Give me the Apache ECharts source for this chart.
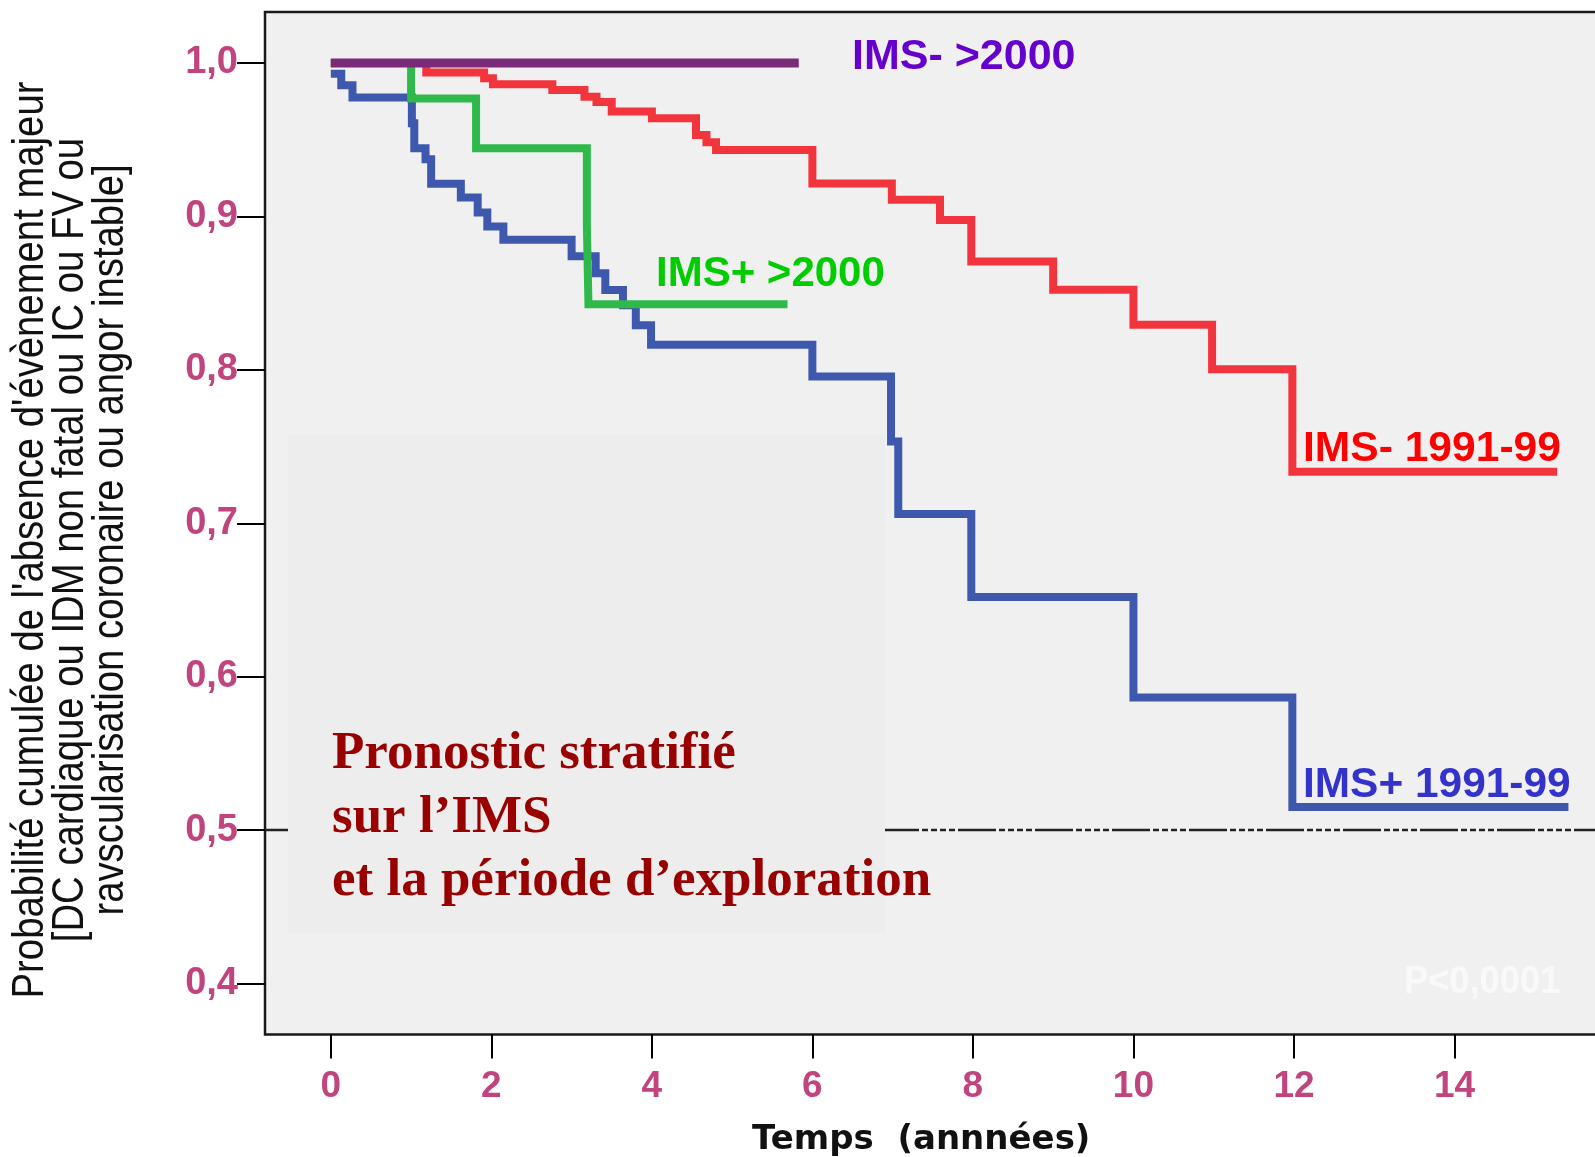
<!DOCTYPE html>
<html>
<head>
<meta charset="utf-8">
<script src="https://cdn.jsdelivr.net/npm/echarts@6/dist/echarts.min.js"></script>
<style>
html,body{margin:0;padding:0;background:#fff;}
#chart{width:1595px;height:1157px;}
</style>
</head>
<body>
<div id="chart"></div>
<script>
// ---- data ----
const xTicks = [0, 2, 4, 6, 8, 10, 12, 14];
const yTicks = [0.4, 0.5, 0.6, 0.7, 0.8, 0.9, 1.0];

// IMS+ 1991-99 (blue)
const blueT = [0, 0.13, 0.27, 1.01, 1.04, 1.18, 1.25, 1.62, 1.83, 1.95, 2.15, 3.0, 3.3, 3.42, 3.64, 3.8, 3.99, 6.0, 6.98, 7.07, 7.98, 10.0, 11.98, 15.42];
const blueS = [0.993, 0.9855, 0.9774, 0.9607, 0.9444, 0.9373, 0.9212, 0.9123, 0.9025, 0.8934, 0.8847, 0.874, 0.863, 0.852, 0.842, 0.829, 0.8163, 0.7956, 0.7533, 0.706, 0.652, 0.5865, 0.515, 0.515];

// IMS- 1991-99 (red)
const redT = [0, 1.19, 1.91, 2.02, 2.76, 3.16, 3.31, 3.5, 4.0, 4.55, 4.68, 4.8, 6.0, 6.99, 7.59, 7.98, 9.0, 10.0, 10.98, 11.98, 15.28];
const redS = [1.0, 0.9937, 0.990, 0.9861, 0.9824, 0.978, 0.9745, 0.9683, 0.964, 0.9531, 0.9483, 0.9433, 0.9214, 0.9108, 0.8976, 0.8706, 0.8521, 0.8293, 0.8004, 0.7336, 0.7336];

// IMS+ >2000 (green)
const greenT = [0, 1.0, 1.81, 3.19, 3.21, 5.69];
const greenS = [1.0, 0.9768, 0.9444, 0.8945, 0.8428, 0.8428];

// IMS- >2000 (purple)
const purpleT = [0, 5.83];
const purpleS = [1.0, 1.0];

// reference line at 0.5
const refT = [-0.82, 16];
const refS = [0.5, 0.5];

const yTitleLines = [
  "Probabilité cumulée de l'absence d'évènement majeur",
  "[DC cardiaque ou IDM non fatal ou IC ou FV ou",
  "ravscularisation coronaire ou angor instable]"
];
const xTitle = "Temps  (annnées)";
const boxLines = ["Pronostic stratifié", "sur l\u2019IMS", "et la période d\u2019exploration"];

// ---- chart ----
function pairs(t, s) { return t.map((v, i) => [v, s[i]]); }
const tickColor = '#c0457f';

const chart = echarts.init(document.getElementById('chart'), null, {renderer: 'canvas'});

function curve(name, t, s, color, width, z) {
  return {
    type: 'line', name: name, data: pairs(t, s), step: 'end', symbol: 'none',
    z: z, silent: true, animation: false,
    lineStyle: {color: color, width: width, join: 'miter', cap: 'butt'}
  };
}

const option = {
  animation: false,
  backgroundColor: '#ffffff',
  grid: {
    left: 265, top: 12, width: 1350, height: 1022.5,
    outerBoundsMode: 'none', containLabel: false,
    show: true, backgroundColor: '#f0f0f0', borderColor: '#1a1a1a', borderWidth: 2.5
  },
  xAxis: {
    type: 'value', min: -0.82, max: 16.0,
    axisLine: {show: false, onZero: false},
    splitLine: {show: false},
    axisTick: {show: true, customValues: xTicks, length: 24, lineStyle: {color: '#000', width: 2}},
    axisLabel: {
      customValues: xTicks, margin: 34, color: tickColor,
      fontFamily: 'Liberation Sans', fontWeight: 'bold', fontSize: 37
    }
  },
  yAxis: {
    type: 'value', min: 0.3668, max: 1.0332,
    axisLine: {show: false, onZero: false},
    splitLine: {show: false},
    axisTick: {show: true, customValues: yTicks, length: 28, lineStyle: {color: '#000', width: 2}},
    axisLabel: {
      customValues: yTicks, margin: 27, color: tickColor,
      fontFamily: 'Liberation Sans', fontWeight: 'bold', fontSize: 38,
      formatter: v => v.toFixed(1).replace('.', ',')
    }
  },
  series: [
    {
      type: 'line', name: 'ref', data: pairs(refT, refS), symbol: 'none', z: 1, silent: true,
      lineStyle: {color: '#222', width: 2.5, type: [38, 3, 6, 3, 6, 3, 6, 3, 6, 3]}
    },
    curve('IMS+ 1991-99', blueT, blueS, '#3d58ad', 8, 3),
    curve('IMS- 1991-99', redT, redS, '#f2353c', 8, 3),
    curve('IMS+ >2000', greenT, greenS, '#2fb94a', 8, 4),
    curve('IMS- >2000', purpleT, purpleS, '#7a2a78', 9, 5)
  ],
  graphic: [
    {type: 'rect', z: 1.5, silent: true, shape: {x: 288, y: 435, width: 597, height: 498}, style: {fill: '#ecedec'}},
    {type: 'text', z: 10, x: 71, y: 540, rotation: Math.PI / 2, scaleX: 0.87,
      style: {text: yTitleLines.join('\n'), fill: '#111', fontFamily: 'Liberation Sans', fontSize: 44,
        lineHeight: 40, align: 'center', verticalAlign: 'middle'}},
    {type: 'text', z: 10, x: 752, y: 1140,
      style: {text: xTitle, fill: '#111', fontFamily: 'DejaVu Sans', fontWeight: 'bold', fontSize: 34,
        align: 'left', verticalAlign: 'middle'}},
    {type: 'text', z: 10, x: 852, y: 57,
      style: {text: 'IMS- >2000', fill: '#6600cc', fontFamily: 'Liberation Sans', fontWeight: 'bold', fontSize: 43,
        align: 'left', verticalAlign: 'middle'}},
    {type: 'text', z: 10, x: 656, y: 274,
      style: {text: 'IMS+ >2000', fill: '#00cc00', fontFamily: 'Liberation Sans', fontWeight: 'bold', fontSize: 42,
        align: 'left', verticalAlign: 'middle'}},
    {type: 'text', z: 10, x: 1303, y: 449, scaleX: 0.99,
      style: {text: 'IMS- 1991-99', fill: '#ff0000', fontFamily: 'Liberation Sans', fontWeight: 'bold', fontSize: 43,
        align: 'left', verticalAlign: 'middle'}},
    {type: 'text', z: 10, x: 1303, y: 785, scaleX: 1.01,
      style: {text: 'IMS+ 1991-99', fill: '#3333cc', fontFamily: 'Liberation Sans', fontWeight: 'bold', fontSize: 42,
        align: 'left', verticalAlign: 'middle'}},
    {type: 'text', z: 10, x: 1404, y: 982, scaleX: 0.93,
      style: {text: 'P<0,0001', fill: '#f9f9f9', fontFamily: 'Liberation Sans', fontWeight: 'bold', fontSize: 39,
        align: 'left', verticalAlign: 'middle'}},
    {type: 'text', z: 10, x: 332, y: 754,
      style: {text: boxLines[0], fill: '#990000', fontFamily: 'Liberation Serif', fontWeight: 'bold', fontSize: 53,
        align: 'left', verticalAlign: 'middle'}},
    {type: 'text', z: 10, x: 332, y: 818,
      style: {text: boxLines[1], fill: '#990000', fontFamily: 'Liberation Serif', fontWeight: 'bold', fontSize: 53,
        align: 'left', verticalAlign: 'middle'}},
    {type: 'text', z: 10, x: 332, y: 881,
      style: {text: boxLines[2], fill: '#990000', fontFamily: 'Liberation Serif', fontWeight: 'bold', fontSize: 53,
        align: 'left', verticalAlign: 'middle'}}
  ]
};
chart.setOption(option);
</script>
</body>
</html>
